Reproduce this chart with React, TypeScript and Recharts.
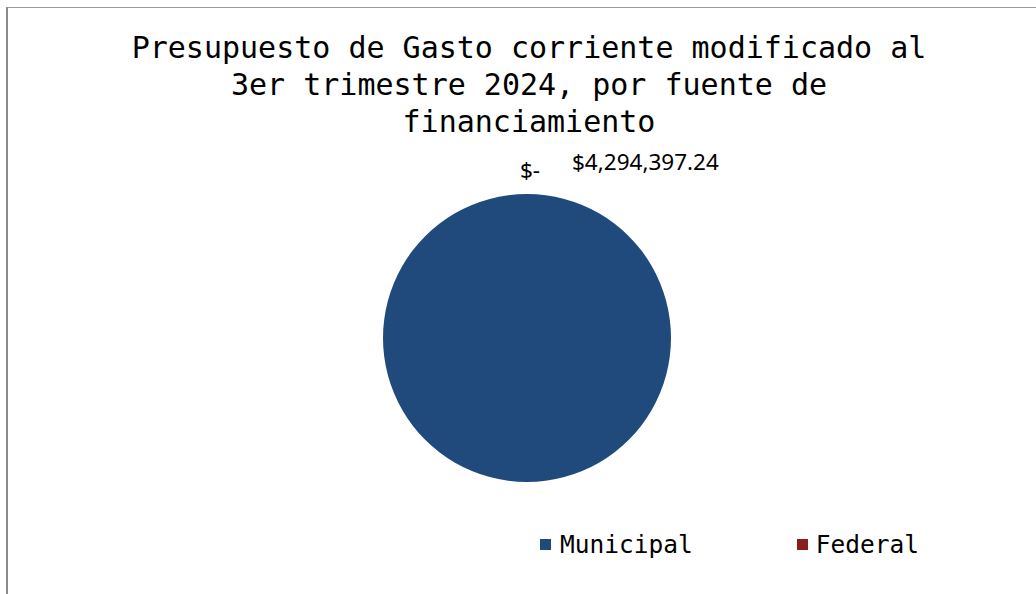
import React from "react";
import { PieChart, Pie, Cell, Legend } from "recharts";

const categories = ["Municipal", "Federal"];
const values = [4294397.24, 0];
const labelTexts = ["$4,294,397.24", "$-"];
const colors = ["#204a7c", "#8b1c1c"];
const titleLines = [
  "Presupuesto de Gasto corriente modificado al",
  "3er trimestre 2024, por fuente de",
  "financiamiento",
];

const data = categories.map((name, i) => ({ name, value: values[i], label: labelTexts[i] }));

const renderLabel = (props: any) => {
  const { cx, cy, outerRadius, index } = props;
  const common = {
    fontFamily: "'Noto Sans', sans-serif",
    fontSize: 22.5,
    fill: "#000",
  };
  if (index === 0) {
    return (
      <text x={cx + 45} y={cy - outerRadius - 24} textAnchor="start" {...common}>
        {labelTexts[0]}
      </text>
    );
  }
  return (
    <text x={cx + 3} y={cy - outerRadius - 16} textAnchor="middle" {...common}>
      {labelTexts[1]}
    </text>
  );
};

const renderLegend = () => (
  <div
    style={{
      display: "flex",
      alignItems: "center",
      paddingLeft: 540,
      fontFamily: "'DejaVu Sans Mono', monospace",
      fontSize: 24.5,
      color: "#000",
      height: 30,
    }}
  >
    {categories.map((c, i) => (
      <div
        key={c}
        style={{ display: "flex", alignItems: "center", marginRight: i === 0 ? 104 : 0 }}
      >
        <span
          style={{
            display: "inline-block",
            width: 11,
            height: 11,
            background: colors[i],
            marginRight: i === 0 ? 9 : 8,
          }}
        />
        <span>{c}</span>
      </div>
    ))}
  </div>
);

export default function App() {
  return (
    <div
      style={{
        position: "absolute",
        left: 0,
        top: 0,
        width: 1036,
        height: 594,
        background: "#fff",
        overflow: "hidden",
      }}
    >
      <div
        style={{
          position: "absolute",
          left: 6,
          top: 7,
          width: 1040,
          height: 600,
          borderLeft: "2px solid #8a8a8a",
          borderTop: "1px solid #9a9a9a",
        }}
      />
      <div
        style={{
          position: "absolute",
          left: 0,
          top: 29,
          width: 1058,
          textAlign: "center",
          fontFamily: "'DejaVu Sans Mono', monospace",
          fontSize: 30,
          lineHeight: "37px",
          color: "#000",
        }}
      >
        {titleLines.map((t) => (
          <div key={t}>{t}</div>
        ))}
      </div>
      <PieChart
        width={1036}
        height={594}
        margin={{ top: 0, right: 0, bottom: 0, left: 0 }}
        style={{ position: "absolute", left: 0, top: 0 }}
      >
        <Pie
          data={data}
          dataKey="value"
          nameKey="name"
          cx={527}
          cy={338}
          outerRadius={144}
          startAngle={90}
          endAngle={-270}
          stroke="none"
          label={renderLabel}
          labelLine={false}
          isAnimationActive={false}
        >
          {data.map((d, i) => (
            <Cell key={d.name} fill={colors[i]} />
          ))}
        </Pie>
        <Legend
          content={renderLegend}
          wrapperStyle={{ position: "absolute", left: 0, top: 529, width: 1036 }}
        />
      </PieChart>
    </div>
  );
}
